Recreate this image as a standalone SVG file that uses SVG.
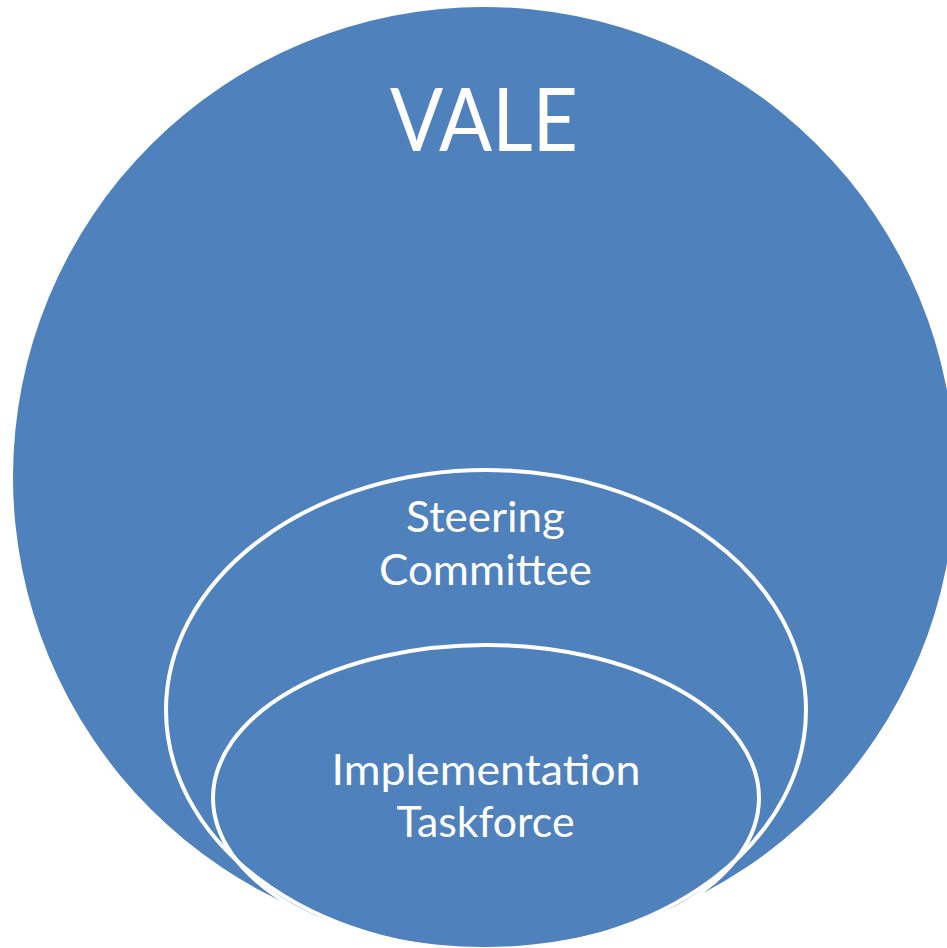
<svg xmlns="http://www.w3.org/2000/svg" width="947" height="948" viewBox="0 0 947 948">
<style>
.fill{fill:#4F81BD}
.ring{fill:none;stroke:#FFFFFF;stroke-width:4}
.t{fill:#FFFFFF;font-family:Lato,"Open Sans","Liberation Sans",sans-serif;text-anchor:middle}
</style>
<rect width="947" height="948" fill="#FFFFFF"/>
<g id="vale">
<ellipse class="fill" cx="484" cy="477" rx="471" ry="470"/>
<text class="t" x="484" y="151" font-size="88" textLength="188" lengthAdjust="spacingAndGlyphs">VALE</text>
</g>
<g id="steering">
<ellipse class="ring" cx="486" cy="710" rx="320" ry="240"/>
<text class="t" x="485.5" y="532" font-size="42" textLength="159" lengthAdjust="spacingAndGlyphs">Steering</text>
<text class="t" x="485.5" y="585" font-size="42" textLength="213" lengthAdjust="spacingAndGlyphs">Committee</text>
</g>
<g id="implementation">
<ellipse class="ring" cx="486" cy="798" rx="273" ry="153"/>
<text class="t" x="486" y="785" font-size="42" textLength="309" lengthAdjust="spacingAndGlyphs">Implementation</text>
<text class="t" x="485.5" y="837" font-size="42" textLength="178" lengthAdjust="spacingAndGlyphs">Taskforce</text>
</g>
<g id="connectors"></g>
</svg>
